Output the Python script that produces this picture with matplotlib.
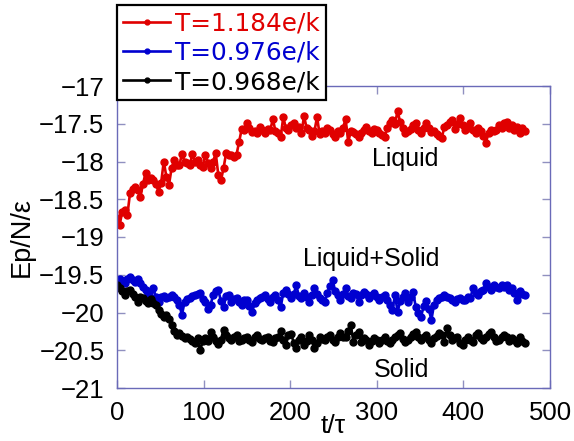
import numpy as np
import matplotlib
matplotlib.use("Agg")
import matplotlib.pyplot as plt

# sampling time step of the data (t/tau)
t_step = 3

red_vals = [
    -18.75, -18.84, -18.67, -18.64, -18.71, -18.42, -18.36, -18.34, -18.38, -18.47,
    -18.30, -18.15, -18.25, -18.22, -18.25, -18.30, -18.40, -18.28, -18.00, -18.20,
    -18.31, -18.09, -17.98, -18.05, -18.05, -17.90, -18.00, -18.02, -18.05, -17.90,
    -18.00, -17.98, -18.05, -18.07, -17.91, -18.02, -18.09, -18.00, -17.89, -18.18,
    -18.25, -18.09, -17.89, -17.92, -17.91, -17.94, -17.91, -17.74, -17.57, -17.58,
    -17.49, -17.55, -17.61, -17.60, -17.62, -17.54, -17.58, -17.62, -17.57, -17.58,
    -17.44, -17.60, -17.62, -17.68, -17.41, -17.56, -17.58, -17.52, -17.49, -17.55,
    -17.54, -17.62, -17.40, -17.56, -17.58, -17.66, -17.60, -17.41, -17.64, -17.60,
    -17.62, -17.56, -17.58, -17.63, -17.68, -17.60, -17.62, -17.55, -17.44, -17.74,
    -17.60, -17.61, -17.64, -17.68, -17.62, -17.58, -17.54, -17.60, -17.62, -17.57,
    -17.58, -17.62, -17.65, -17.68, -17.56, -17.49, -17.45, -17.50, -17.33, -17.48,
    -17.55, -17.62, -17.60, -17.57, -17.52, -17.49, -17.58, -17.62, -17.55, -17.49,
    -17.56, -17.61, -17.60, -17.63, -17.66, -17.69, -17.54, -17.52, -17.48, -17.45,
    -17.57, -17.50, -17.42, -17.52, -17.58, -17.56, -17.49, -17.58, -17.62, -17.55,
    -17.60, -17.66, -17.75, -17.62, -17.58, -17.60, -17.58, -17.52, -17.55, -17.49,
    -17.48, -17.55, -17.52, -17.58, -17.54, -17.62, -17.56, -17.60,
]

blue_vals = [
    -19.60, -19.55, -19.58, -19.61, -19.56, -19.53, -19.57, -19.60, -19.56, -19.61,
    -19.66, -19.70, -19.76, -19.81, -19.68, -19.80, -19.86, -19.80, -19.78, -19.81,
    -19.79, -19.77, -19.80, -19.83, -19.90, -20.03, -19.86, -19.82, -19.81, -19.78,
    -19.77, -19.76, -19.74, -19.82, -19.86, -19.95, -19.90, -19.77, -19.72, -19.70,
    -19.85, -19.93, -19.78, -19.77, -19.86, -19.82, -19.81, -19.86, -19.90, -19.84,
    -19.83, -19.92, -19.99, -19.88, -19.83, -19.81, -19.79, -19.77, -19.82, -19.86,
    -19.80, -19.77, -19.84, -19.93, -19.74, -19.70, -19.75, -19.81, -19.76, -19.64,
    -19.78, -19.81, -19.74, -19.80, -19.86, -19.77, -19.68, -19.75, -19.81, -19.84,
    -19.86, -19.74, -19.65, -19.57, -19.72, -19.77, -19.84, -19.76, -19.68, -19.78,
    -19.81, -19.74, -19.76, -19.86, -19.77, -19.73, -19.76, -19.81, -19.77, -19.74,
    -19.80, -19.83, -19.79, -19.77, -19.84, -19.90, -19.97, -19.77, -19.99, -19.85,
    -19.80, -19.74, -19.86, -19.80, -19.73, -19.93, -20.00, -20.06, -19.92, -19.85,
    -19.95, -20.10, -19.90, -19.84, -19.81, -19.79, -19.77, -19.80, -19.81, -19.84,
    -19.86, -19.82, -19.81, -19.84, -19.83, -19.80, -19.81, -19.68, -19.74, -19.77,
    -19.72, -19.70, -19.61, -19.66, -19.70, -19.64, -19.66, -19.68, -19.63, -19.66,
    -19.64, -19.70, -19.67, -19.74, -19.83, -19.72, -19.75, -19.77,
]

black_vals = [
    -19.63, -19.68, -19.72, -19.77, -19.72, -19.70, -19.76, -19.80, -19.86, -19.80,
    -19.81, -19.85, -19.87, -19.82, -19.88, -19.90, -19.97, -20.02, -20.06, -20.03,
    -20.08, -20.17, -20.25, -20.30, -20.27, -20.31, -20.34, -20.33, -20.35, -20.38,
    -20.40, -20.34, -20.50, -20.38, -20.34, -20.38, -20.26, -20.33, -20.38, -20.42,
    -20.36, -20.23, -20.30, -20.34, -20.37, -20.33, -20.30, -20.38, -20.36, -20.34,
    -20.32, -20.37, -20.39, -20.33, -20.30, -20.35, -20.36, -20.34, -20.32, -20.38,
    -20.39, -20.34, -20.32, -20.25, -20.36, -20.43, -20.30, -20.28, -20.40, -20.47,
    -20.36, -20.32, -20.43, -20.38, -20.30, -20.36, -20.47, -20.40, -20.32, -20.35,
    -20.36, -20.32, -20.30, -20.36, -20.39, -20.33, -20.27, -20.32, -20.33, -20.24,
    -20.17, -20.39, -20.30, -20.26, -20.39, -20.34, -20.36, -20.43, -20.38, -20.34,
    -20.37, -20.40, -20.36, -20.32, -20.38, -20.40, -20.36, -20.33, -20.30, -20.27,
    -20.35, -20.39, -20.36, -20.33, -20.29, -20.26, -20.33, -20.37, -20.32, -20.30,
    -20.36, -20.40, -20.34, -20.31, -20.27, -20.30, -20.39, -20.21, -20.30, -20.36,
    -20.34, -20.32, -20.40, -20.43, -20.36, -20.32, -20.37, -20.39, -20.30, -20.27,
    -20.34, -20.36, -20.32, -20.28, -20.26, -20.33, -20.38, -20.36, -20.33, -20.30,
    -20.32, -20.38, -20.34, -20.36, -20.40, -20.33, -20.38, -20.40,
]

labels = ["T=1.184e/k", "T=0.976e/k", "T=0.968e/k"]
colors = ["#e00000", "#0000d0", "#000000"]
x_ticks = [0, 100, 200, 300, 400, 500]
y_ticks = [-21, -20.5, -20, -19.5, -19, -18.5, -18, -17.5, -17]
y_tick_labels = ["\u221221", "\u221220.5", "\u221220", "\u221219.5", "\u221219",
                 "\u221218.5", "\u221218", "\u221217.5", "\u221217"]
annotations = [("Liquid", 333, -17.97), ("Liquid+Solid", 293, -19.29), ("Solid", 329, -20.76)]

t = np.arange(len(red_vals)) * t_step

plt.rcParams['font.family'] = ['Liberation Sans', 'DejaVu Sans']

fig = plt.figure(figsize=(5.74, 4.41), dpi=100)
ax = fig.add_axes([117/574, 1-388/441, (550-117)/574, (388-86)/441])

spine_c = "#6a6ab8"
for s in ax.spines.values():
    s.set_color(spine_c)
    s.set_linewidth(1.0)

for vals, c, lab in zip([red_vals, blue_vals, black_vals], colors, labels):
    ax.plot(t, vals, '-o', color=c, lw=1.9, ms=5.0, label=lab)

ax.set_xlim(0, 500)
ax.set_ylim(-21, -17)
ax.set_xticks(x_ticks)
ax.set_yticks(y_ticks)
ax.set_yticklabels(y_tick_labels)
ax.tick_params(direction='in', length=6, width=1, color="#9090c0",
               top=True, right=True, labelsize=18.5, pad=9)

ax.set_xlabel("t/\u03c4", fontsize=19)
ax.xaxis.set_label_coords(0.5, -0.085)
ax.set_ylabel("Ep/N/\u03b5", fontsize=19.5)
ax.yaxis.set_label_coords(-0.19, 0.5)

for txt, x, y in annotations:
    ax.text(x, y, txt, fontsize=18, ha='center', va='center')

leg = ax.legend(loc='upper left', bbox_to_anchor=(117/574, 1-5/441),
                bbox_transform=fig.transFigure, borderaxespad=0,
                fancybox=False, framealpha=1, edgecolor='black',
                prop={'family': 'DejaVu Sans', 'size': 17.8},
                handlelength=1.9, handletextpad=0.2, labelspacing=0.22,
                borderpad=0.25, markerscale=0.7)
leg.get_frame().set_linewidth(1.6)
for txt, c in zip(leg.get_texts(), colors):
    txt.set_color(c)

fig.savefig("out.png", dpi=100)
